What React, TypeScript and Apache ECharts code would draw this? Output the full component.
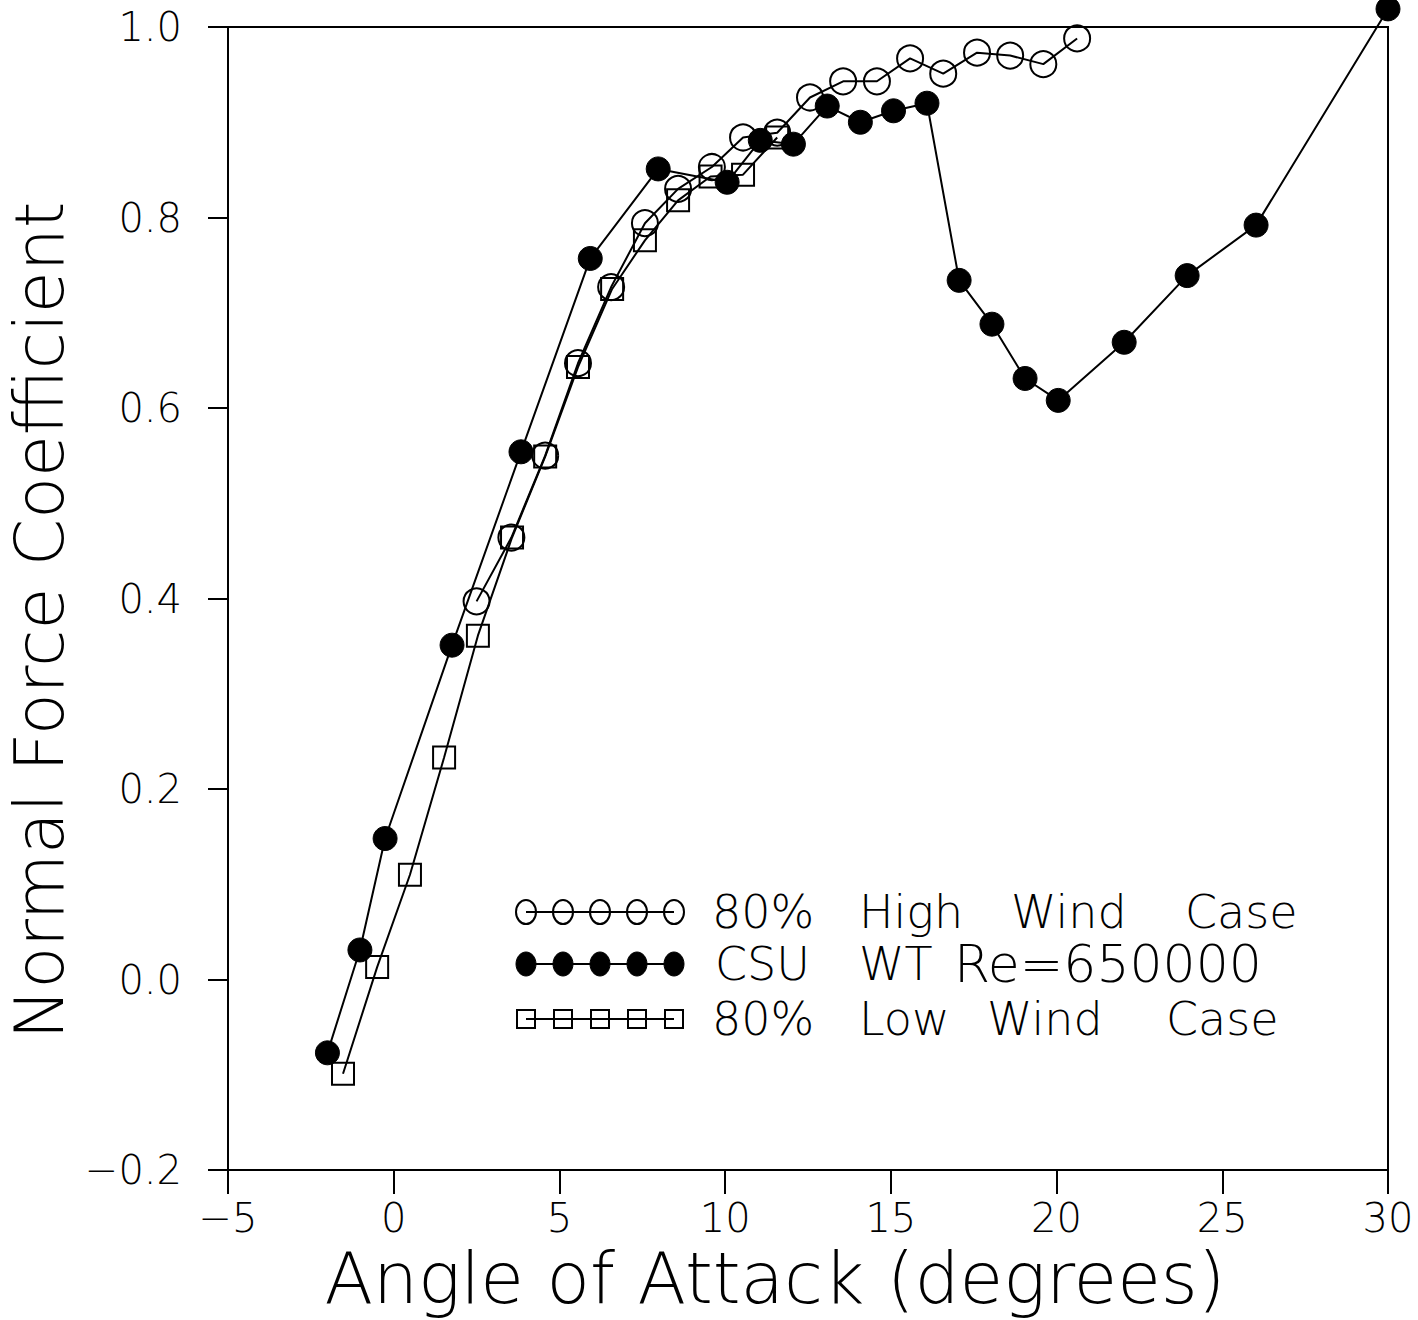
import React, { useEffect, useRef } from "react";
import * as echarts from "echarts";

// ---- data ----
const highWindAoA = [2.5, 3.55, 4.57, 5.56, 6.56, 7.58, 8.58, 9.6, 10.54, 11.57, 12.56, 13.56, 14.58, 15.58, 16.58, 17.6, 18.6, 19.6, 20.62];
const highWindCn = [0.397, 0.464, 0.55, 0.647, 0.727, 0.794, 0.83, 0.853, 0.884, 0.889, 0.926, 0.943, 0.943, 0.967, 0.951, 0.973, 0.97, 0.961, 0.988];

const csuAoA = [-2.0, -1.02, -0.26, 1.76, 3.84, 5.93, 7.98, 10.06, 11.06, 12.06, 13.08, 14.08, 15.08, 16.09, 17.06, 18.05, 19.05, 20.05, 22.04, 23.94, 26.02, 30.0];
const csuCn = [-0.077, 0.031, 0.148, 0.351, 0.554, 0.757, 0.851, 0.837, 0.881, 0.877, 0.917, 0.9, 0.912, 0.92, 0.734, 0.688, 0.631, 0.608, 0.669, 0.739, 0.792, 1.019];

const lowWindAoA = [-1.53, -0.5, 0.49, 1.52, 2.54, 3.57, 4.57, 5.56, 6.59, 7.58, 8.58, 9.56, 10.54, 11.57];
const lowWindCn = [-0.099, 0.013, 0.11, 0.233, 0.361, 0.464, 0.549, 0.643, 0.725, 0.776, 0.818, 0.843, 0.845, 0.884];

const seriesNames = ["80% High Wind Case", "CSU WT Re=650000", "80% Low Wind Case"];
const xTicks = { min: -5, max: 30, interval: 5 };
const yTicks = { min: -0.2, max: 1.0, interval: 0.2 };
const xTitle = "Angle of Attack (degrees)";
const yTitle = "Normal Force Coefficient";

const FONT = "'DejaVu Sans', 'Liberation Sans', sans-serif";
const minus = (s: string) => s.replace("-", "\u2212");

const zip = (xs: number[], ys: number[]) => xs.map((x, i) => [x, ys[i]]);

function legendGraphic() {
  const rowsY = [912, 964, 1019];
  const markerX = [526, 563, 600, 637, 674];
  const wordX = [
    [712, 859, 1011, 1185],
    [715, 859, 954],
    [712, 859, 987, 1166],
  ];
  const wordSize = [
    [46, 46, 46, 46],
    [46, 46, 52],
    [46, 46, 46, 46],
  ];
  const kinds = ["open", "filled", "square"];
  const children: any[] = [];
  rowsY.forEach((y, r) => {
    children.push({
      type: "line",
      shape: { x1: markerX[0], y1: y, x2: markerX[4], y2: y },
      style: { stroke: "#000", lineWidth: 2 },
    });
    markerX.forEach((x) => {
      if (kinds[r] === "open") {
        children.push({ type: "ellipse", shape: { cx: x, cy: y, rx: 10, ry: 12 }, style: { fill: "none", stroke: "#000", lineWidth: 2 } });
      } else if (kinds[r] === "filled") {
        children.push({ type: "ellipse", shape: { cx: x, cy: y, rx: 10, ry: 12 }, style: { fill: "#000", stroke: "#000", lineWidth: 1 } });
      } else {
        children.push({ type: "rect", shape: { x: x - 9, y: y - 9, width: 18, height: 18 }, style: { fill: "none", stroke: "#000", lineWidth: 2 } });
      }
    });
    const words = seriesNames[r].split(" ");
    words.forEach((w, i) => {
      children.push({
        type: "text",
        x: wordX[r][i],
        y: y,
        style: {
          text: w,
          fill: "#000",
          fontSize: wordSize[r][i],
          fontFamily: FONT,
          fontWeight: 200,
          align: "left",
          verticalAlign: "middle",
          textAlign: "left",
          textVerticalAlign: "middle",
        },
      });
    });
  });
  return [{ type: "group", children }];
}

export default function App() {
  const ref = useRef<HTMLDivElement>(null);
  useEffect(() => {
    if (!ref.current) return;
    const chart = echarts.init(ref.current, undefined, { renderer: "svg" });
    const axisText = { color: "#000", fontSize: 40, fontFamily: FONT, fontWeight: 200 } as any;
    chart.setOption({
      animation: false,
      backgroundColor: "#fff",
      grid: {
        left: 228, right: 30, top: 27, bottom: 150,
        show: true, borderColor: "#000", borderWidth: 2,
        containLabel: false, outerBoundsMode: "none",
      },
      xAxis: {
        type: "value",
        min: xTicks.min,
        max: xTicks.max,
        interval: xTicks.interval,
        name: xTitle,
        nameLocation: "middle",
        nameGap: 62,
        nameTextStyle: { color: "#000", fontSize: 71, fontFamily: FONT, fontWeight: 200, padding: [0, 66, 0, 0] },
        axisLine: { onZero: false, lineStyle: { color: "#000", width: 2 } },
        axisTick: { inside: false, length: 24, lineStyle: { color: "#000", width: 2 } },
        axisLabel: { ...axisText, margin: 28, formatter: (v: number) => minus(String(v)) },
        splitLine: { show: false },
      },
      yAxis: {
        type: "value",
        min: yTicks.min,
        max: yTicks.max,
        interval: yTicks.interval,
        name: yTitle,
        nameLocation: "middle",
        nameGap: 140,
        nameTextStyle: { color: "#000", fontSize: 68, fontFamily: FONT, fontWeight: 200, padding: [0, 44, 0, 0] },
        axisLine: { onZero: false, lineStyle: { color: "#000", width: 2 } },
        axisTick: { inside: false, length: 20, lineStyle: { color: "#000", width: 2 } },
        axisLabel: { ...axisText, margin: 46, formatter: (v: number) => minus(v.toFixed(1)) },
        splitLine: { show: false },
      },
      series: [
        {
          name: seriesNames[0],
          type: "line",
          data: zip(highWindAoA, highWindCn),
          symbol: "circle",
          symbolSize: 26,
          clip: false,
          itemStyle: { color: "rgba(0,0,0,0)", borderColor: "#000", borderWidth: 2 },
          lineStyle: { color: "#000", width: 2 },
          z: 3,
        },
        {
          name: seriesNames[1],
          type: "line",
          data: zip(csuAoA, csuCn),
          symbol: "circle",
          symbolSize: 24,
          clip: false,
          itemStyle: { color: "#000", borderColor: "#000", borderWidth: 1 },
          lineStyle: { color: "#000", width: 2 },
          z: 4,
        },
        {
          name: seriesNames[2],
          type: "line",
          data: zip(lowWindAoA, lowWindCn),
          symbol: "rect",
          symbolSize: 22,
          clip: false,
          itemStyle: { color: "rgba(0,0,0,0)", borderColor: "#000", borderWidth: 2 },
          lineStyle: { color: "#000", width: 2 },
          z: 2,
        },
      ],
      graphic: legendGraphic(),
    });
    return () => chart.dispose();
  }, []);
  return <div ref={ref} style={{ position: "absolute", left: 0, top: 0, width: 1418, height: 1320, background: "#fff" }} />;
}
